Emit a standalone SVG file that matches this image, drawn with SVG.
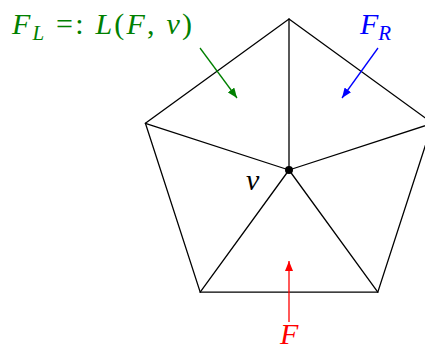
<svg xmlns="http://www.w3.org/2000/svg" width="425" height="351" viewBox="0 0 425 351">
<style>
.e{stroke:#000;stroke-width:1.3;fill:none;stroke-linecap:round}
.t{font-family:"Liberation Serif",serif;font-size:30px}
.i{font-style:italic}
</style>
<defs>
<marker id="ag" viewBox="0 0 10 8" refX="10" refY="4" markerWidth="10" markerHeight="8" markerUnits="userSpaceOnUse" orient="auto"><path d="M0,0L10,4L0,8z" fill="#008000"/></marker>
<marker id="ab" viewBox="0 0 10 8" refX="10" refY="4" markerWidth="10" markerHeight="8" markerUnits="userSpaceOnUse" orient="auto"><path d="M0,0L10,4L0,8z" fill="#0000ff"/></marker>
<marker id="ar" viewBox="0 0 10 8" refX="10" refY="4" markerWidth="10" markerHeight="8" markerUnits="userSpaceOnUse" orient="auto"><path d="M0,0L10,4L0,8z" fill="#ff0000"/></marker>
</defs>
<g id="edges">
<path class="e" d="M289,19L432.6,123.3L377.8,292.2L200.2,292.2L145.4,123.3Z"/>
<path class="e" d="M289,170L289,19M289,170L432.6,123.3M289,170L377.8,292.2M289,170L200.2,292.2M289,170L145.4,123.3"/>
</g>
<g id="v">
<circle cx="289" cy="170" r="4" fill="#000"/>
<text class="t i" x="246" y="190" font-size="32">v</text>
</g>
<g id="connectors">
<line x1="200" y1="48" x2="237" y2="98" stroke="#008000" stroke-width="1.3" marker-end="url(#ag)"/>
<line x1="378" y1="48" x2="342" y2="98" stroke="#0000ff" stroke-width="1.3" marker-end="url(#ab)"/>
<line x1="289" y1="322" x2="289" y2="261" stroke="#ff0000" stroke-width="1.3" marker-end="url(#ar)"/>
</g>
<g id="FL">
<text class="t" x="12" y="34" fill="#008000" textLength="180" lengthAdjust="spacing"><tspan class="i">F</tspan><tspan class="i" font-size="21" dy="6">L</tspan><tspan dy="-6"> =: </tspan><tspan class="i">L</tspan>(<tspan class="i">F</tspan>, <tspan class="i">v</tspan>)</text>
</g>
<g id="FR">
<text class="t" x="360" y="34" fill="#0000ff"><tspan class="i">F</tspan><tspan class="i" font-size="21" dy="6">R</tspan></text>
</g>
<g id="F">
<text class="t i" x="280" y="344" fill="#ff0000">F</text>
</g>
</svg>
